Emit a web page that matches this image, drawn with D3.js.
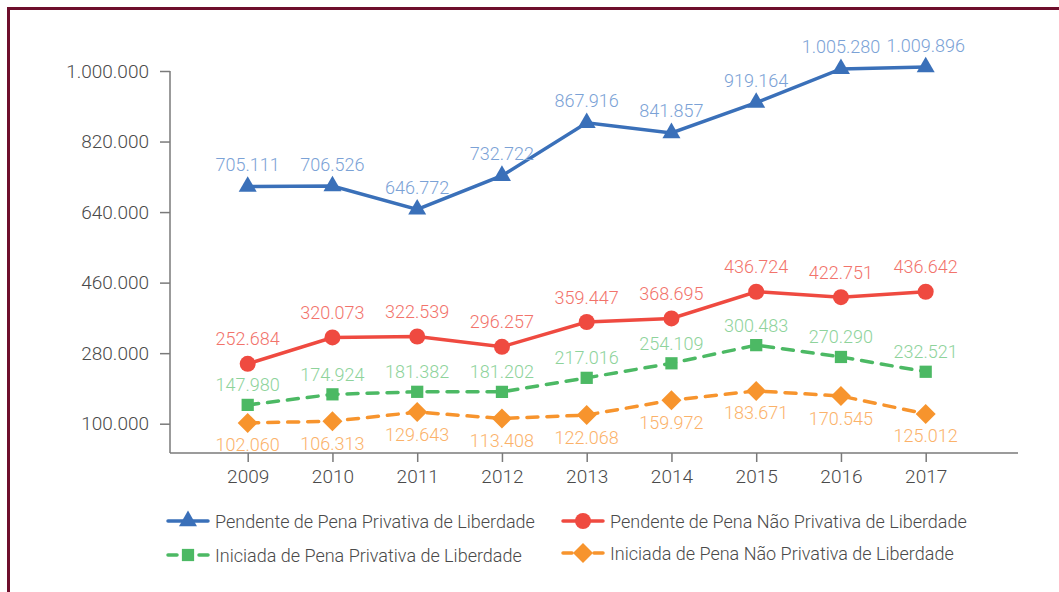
<!DOCTYPE html>
<html>
<head>
<meta charset="utf-8">
<script src="https://cdn.jsdelivr.net/npm/d3@7"></script>
<style>
  body { margin: 0; background: #fff; }
  text { font-family: Roboto, "Open Sans", sans-serif; font-weight: 300; }
</style>
</head>
<body>
<div id="chart"></div>
<script>
// data
const years = [2009, 2010, 2011, 2012, 2013, 2014, 2015, 2016, 2017];
const pendentePrivativa = [705111, 706526, 646772, 732722, 867916, 841857, 919164, 1005280, 1009896];
const pendenteNaoPrivativa = [252684, 320073, 322539, 296257, 359447, 368695, 436724, 422751, 436642];
const iniciadaPrivativa = [147980, 174924, 181382, 181202, 217016, 254109, 300483, 270290, 232521];
const iniciadaNaoPrivativa = [102060, 106313, 129643, 113408, 122068, 159972, 183671, 170545, 125012];
const yTicks = [100000, 280000, 460000, 640000, 820000, 1000000];

const seriesNames = [
  "Pendente de Pena Privativa de Liberdade",
  "Pendente de Pena Não Privativa de Liberdade",
  "Iniciada de Pena Privativa de Liberdade",
  "Iniciada de Pena Não Privativa de Liberdade"
];

const width = 1059, height = 592;
const left = 170, right = 1018, bottom = 453;

const locale = d3.formatLocale({decimal: ",", thousands: ".", grouping: [3], currency: ["", ""]});
const fmt = locale.format(",d");

const svg = d3.select("#chart")
  .append("svg")
    .attr("width", width)
    .attr("height", height);

// frame
svg.append("rect")
  .attr("x", 8.5).attr("y", 8.5)
  .attr("width", 1100).attr("height", 700)
  .attr("fill", "none")
  .attr("stroke", "#6e0f2c")
  .attr("stroke-width", 3);

const x = d3.scalePoint()
  .domain(years)
  .range([247.7, 925.7]);

const y = d3.scaleLinear()
  .domain([100000, 1000000])
  .range([423.7, 71]);

// X axis
const gx = svg.append("g")
  .attr("transform", `translate(0, ${bottom})`)
  .call(d3.axisBottom(x).tickSize(9).tickSizeOuter(0).tickPadding(8));
gx.select(".domain").attr("d", `M${left},0H${right}`);

// Y axis
const gy = svg.append("g")
  .attr("transform", `translate(${left}, 0)`)
  .call(d3.axisLeft(y).tickValues(yTicks).tickFormat(fmt).tickSize(10).tickSizeOuter(0).tickPadding(11));
gy.select(".domain").attr("d", `M0,${y(1000000)}V${bottom}`);

svg.selectAll(".domain, .tick line")
  .attr("stroke", "#7a7a7a")
  .attr("stroke-width", 1.5);
svg.selectAll(".tick text")
  .attr("fill", "#4a4a4a")
  .style("font-size", "19px")
  .style("font-family", "Roboto, 'Open Sans', sans-serif")
  .style("font-weight", 300);

const diamond = {
  draw(context, size) {
    const r = Math.sqrt(size / 2);
    context.moveTo(0, -r);
    context.lineTo(r, 0);
    context.lineTo(0, r);
    context.lineTo(-r, 0);
    context.closePath();
  }
};

const series = [
  {name: seriesNames[0], values: pendentePrivativa, color: "#3a70b9", label: "#7ba2d6", dash: null, shape: d3.symbolTriangle, size: 140, dy: -22},
  {name: seriesNames[1], values: pendenteNaoPrivativa, color: "#ef4a40", label: "#f2736b", dash: null, shape: d3.symbolCircle, size: 201, dy: -25},
  {name: seriesNames[2], values: iniciadaPrivativa, color: "#4cb964", label: "#8ed39b", dash: "11,9", shape: d3.symbolSquare, size: 150, dy: -20},
  {name: seriesNames[3], values: iniciadaNaoPrivativa, color: "#f7942d", label: "#fbb26a", dash: "11,9", shape: diamond, size: 200, dy: 22}
];

const line = d3.line()
  .x((d, i) => x(years[i]))
  .y(d => y(d));

series.forEach(function(s) {
  svg.append("path")
    .datum(s.values)
    .attr("fill", "none")
    .attr("stroke", s.color)
    .attr("stroke-width", 3.5)
    .attr("stroke-linecap", s.dash ? "round" : "butt")
    .attr("stroke-dasharray", s.dash)
    .attr("d", line);
});

series.forEach(function(s) {
  const g = svg.append("g");
  g.selectAll("path")
    .data(s.values)
    .join("path")
      .attr("transform", (d, i) => `translate(${x(years[i])}, ${y(d)})`)
      .attr("d", d3.symbol().type(s.shape).size(s.size))
      .attr("fill", s.color);
  g.selectAll("text")
    .data(s.values)
    .join("text")
      .attr("x", (d, i) => x(years[i]))
      .attr("y", d => y(d) + s.dy)
      .attr("text-anchor", "middle")
      .attr("dominant-baseline", "central")
      .attr("fill", s.label)
      .style("font-size", "18px")
      .text(d => fmt(d));
});

// legend
const legendPos = [[168, 521], [563, 521], [168, 555], [563, 553]];
series.forEach(function(s, i) {
  const [lx, ly] = legendPos[i];
  const g = svg.append("g").attr("transform", `translate(${lx}, ${ly})`);
  g.append("line")
    .attr("x1", 0).attr("x2", 40)
    .attr("stroke", s.color)
    .attr("stroke-width", 3.5)
    .attr("stroke-linecap", "round")
    .attr("stroke-dasharray", s.dash ? "9,22,9" : null);
  g.append("path")
    .attr("transform", "translate(20, 0)")
    .attr("d", d3.symbol().type(s.shape).size(s.size))
    .attr("fill", s.color);
  g.append("text")
    .attr("x", 47)
    .attr("dominant-baseline", "central")
    .attr("fill", "#4a4a4a")
    .style("font-size", "18px")
    .text(s.name);
});
</script>
</body>
</html>
